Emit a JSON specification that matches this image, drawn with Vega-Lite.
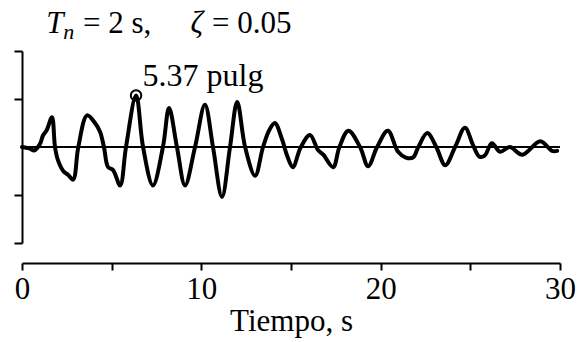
{
  "$schema": "https://vega.github.io/schema/vega-lite/v6.json",
  "width": 538,
  "height": 192,
  "autosize": {"type": "none"},
  "padding": {"left": 22, "top": 51, "right": 19, "bottom": 99},
  "background": "white",
  "config": {"view": {"stroke": null}, "font": "Liberation Serif"},
  "datasets": {
    "resp": [
      {"t": 0, "v": 0}, {"t": 0.4, "v": -0.15}, {"t": 0.7, "v": -0.35}, {"t": 1.0, "v": 0.3}, {"t": 1.17, "v": 1.2},
      {"t": 1.39, "v": 1.8}, {"t": 1.67, "v": 3.1}, {"t": 1.84, "v": 0}, {"t": 2.0, "v": -1.35}, {"t": 2.3, "v": -2.5},
      {"t": 2.57, "v": -2.9}, {"t": 2.85, "v": -3.4}, {"t": 3.14, "v": 0}, {"t": 3.63, "v": 3.3}, {"t": 4.07, "v": 2.5},
      {"t": 4.35, "v": 1.6}, {"t": 4.57, "v": 0}, {"t": 4.8, "v": -2.1}, {"t": 5.08, "v": -2.4}, {"t": 5.47, "v": -4.0},
      {"t": 5.8, "v": 0}, {"t": 6.36, "v": 5.37}, {"t": 6.75, "v": 0}, {"t": 7.3, "v": -4.0}, {"t": 7.86, "v": 0},
      {"t": 8.2, "v": 4.05}, {"t": 8.64, "v": 0}, {"t": 9.09, "v": -4.0}, {"t": 9.65, "v": 0}, {"t": 10.2, "v": 4.4},
      {"t": 10.65, "v": 0}, {"t": 11.15, "v": -5.2}, {"t": 11.6, "v": 0}, {"t": 12.0, "v": 4.7}, {"t": 12.44, "v": 0},
      {"t": 13.0, "v": -3.0}, {"t": 13.44, "v": 0}, {"t": 13.8, "v": 1.8}, {"t": 14.1, "v": 2.5}, {"t": 14.5, "v": 0.8},
      {"t": 14.8, "v": -1.0}, {"t": 15.1, "v": -2.1}, {"t": 15.55, "v": 0}, {"t": 16.06, "v": 1.25}, {"t": 16.5, "v": -0.3},
      {"t": 16.8, "v": -0.8}, {"t": 17.35, "v": -2.1}, {"t": 17.7, "v": 0}, {"t": 18.2, "v": 1.7}, {"t": 18.85, "v": 0},
      {"t": 19.3, "v": -2.0}, {"t": 19.8, "v": 0}, {"t": 20.4, "v": 1.7}, {"t": 20.97, "v": -0.5}, {"t": 21.4, "v": -1.1},
      {"t": 21.8, "v": -1.1}, {"t": 22.1, "v": 0}, {"t": 22.6, "v": 1.45}, {"t": 23.1, "v": 0}, {"t": 23.6, "v": -1.9},
      {"t": 24.15, "v": 0}, {"t": 24.7, "v": 2.0}, {"t": 25.15, "v": 0.2}, {"t": 25.5, "v": -1.0}, {"t": 25.8, "v": -0.9},
      {"t": 26.2, "v": 0.4}, {"t": 26.66, "v": -0.5}, {"t": 27.2, "v": 0.0}, {"t": 27.9, "v": -0.8}, {"t": 28.9, "v": 0.6},
      {"t": 29.56, "v": -0.4}, {"t": 29.84, "v": -0.4}
    ],
    "peak": [{"t": 6.36, "v": 5.37}]
  },
  "layer": [
    {
      "data": {"name": "resp"},
      "mark": {"type": "line", "color": "black", "strokeWidth": 4, "interpolate": "catmull-rom", "strokeJoin": "round", "strokeCap": "round"},
      "encoding": {
        "x": {
          "field": "t", "type": "quantitative",
          "scale": {"domain": [0, 30], "nice": false, "zero": false},
          "axis": {
            "title": "Tiempo, s", "values": [0, 5, 10, 15, 20, 25, 30],
            "labelExpr": "datum.value % 10 === 0 ? datum.label : ''",
            "offset": 20, "tickSize": 7, "tickWidth": 2, "domainWidth": 2,
            "domainColor": "black", "tickColor": "black", "labelColor": "black",
            "labelFont": "Liberation Serif", "labelFontSize": 31, "labelPadding": 4,
            "labelFlush": false, "labelOverlap": false,
            "titleFont": "Liberation Serif", "titleFontSize": 31, "titleFontWeight": "normal",
            "titleColor": "black", "titlePadding": 2, "grid": false
          }
        },
        "y": {
          "field": "v", "type": "quantitative",
          "scale": {"domain": [-10, 10], "nice": false},
          "axis": {
            "title": null, "labels": false, "values": [-10, -5, 5, 10],
            "tickSize": 8, "tickWidth": 2, "domainWidth": 2,
            "domainColor": "black", "tickColor": "black", "grid": false
          }
        }
      }
    },
    {
      "data": {"values": [{}]},
      "mark": {"type": "rule", "color": "black", "strokeWidth": 2},
      "encoding": {
        "x": {"datum": 0, "type": "quantitative"},
        "x2": {"datum": 30},
        "y": {"datum": 0, "type": "quantitative"}
      }
    },
    {
      "data": {"name": "peak"},
      "mark": {"type": "point", "shape": "circle", "size": 110, "filled": false, "stroke": "black", "strokeWidth": 2, "opacity": 1},
      "encoding": {
        "x": {"field": "t", "type": "quantitative"},
        "y": {"field": "v", "type": "quantitative"}
      }
    },
    {
      "data": {"values": [{}]},
      "mark": {"type": "text", "text": "5.37 pulg", "font": "Liberation Serif", "fontSize": 32, "align": "left", "baseline": "alphabetic", "color": "black"},
      "encoding": {
        "x": {"datum": 6.72, "type": "quantitative"},
        "y": {"datum": 6.35, "type": "quantitative"}
      }
    },
    {
      "data": {"values": [{}]},
      "mark": {"type": "text", "text": "T", "font": "Liberation Serif", "fontStyle": "italic", "fontSize": 31, "align": "left", "baseline": "alphabetic", "color": "black"},
      "encoding": {
        "x": {"datum": 1.35, "type": "quantitative"},
        "y": {"datum": 11.875, "type": "quantitative"}
      }
    },
    {
      "data": {"values": [{}]},
      "mark": {"type": "text", "text": "n", "font": "Liberation Serif", "fontStyle": "italic", "fontSize": 22, "align": "left", "baseline": "alphabetic", "color": "black"},
      "encoding": {
        "x": {"datum": 2.3, "type": "quantitative"},
        "y": {"datum": 11.3, "type": "quantitative"}
      }
    },
    {
      "data": {"values": [{}]},
      "mark": {"type": "text", "text": "= 2 s,", "font": "Liberation Serif", "fontSize": 31, "align": "left", "baseline": "alphabetic", "color": "black"},
      "encoding": {
        "x": {"datum": 3.4, "type": "quantitative"},
        "y": {"datum": 11.875, "type": "quantitative"}
      }
    },
    {
      "data": {"values": [{}]},
      "mark": {"type": "text", "text": "ζ", "font": "Liberation Serif", "fontStyle": "italic", "fontSize": 31, "align": "left", "baseline": "alphabetic", "color": "black"},
      "encoding": {
        "x": {"datum": 9.4, "type": "quantitative"},
        "y": {"datum": 11.875, "type": "quantitative"}
      }
    },
    {
      "data": {"values": [{}]},
      "mark": {"type": "text", "text": "= 0.05", "font": "Liberation Serif", "fontSize": 31, "align": "left", "baseline": "alphabetic", "color": "black"},
      "encoding": {
        "x": {"datum": 10.6, "type": "quantitative"},
        "y": {"datum": 11.875, "type": "quantitative"}
      }
    }
  ]
}
